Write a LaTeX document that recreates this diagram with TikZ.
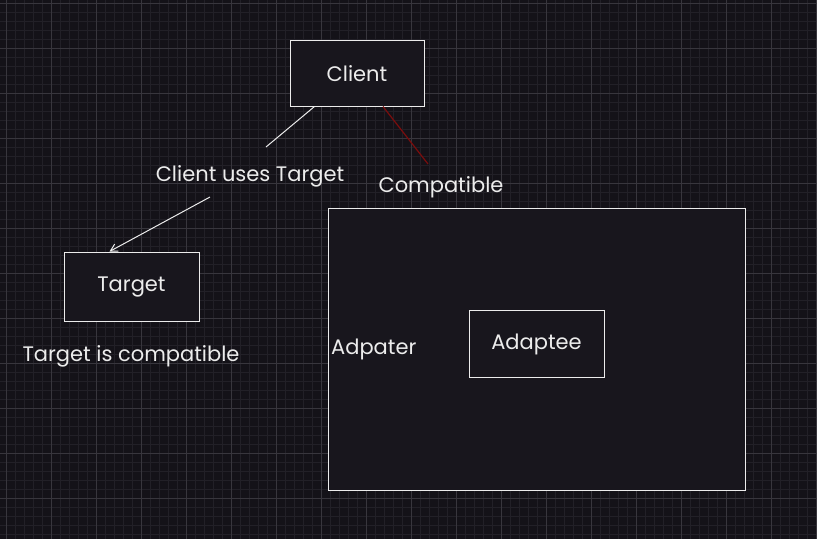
\documentclass[tikz,border=0pt]{standalone}
\usepackage{fontspec}
\setmainfont{Poppins}
\usetikzlibrary{arrows.meta,calc}
\definecolor{bg}{HTML}{141218}
\definecolor{boxfill}{HTML}{18161D}
\definecolor{minorgrid}{HTML}{222027}
\definecolor{majorgrid}{HTML}{38363D}
\definecolor{ink}{HTML}{ECECEC}
\definecolor{redline}{HTML}{7A0D0D}
\tikzset{
  x=1pt,y=-1pt,
  sketchbox/.style={draw=ink, line width=1pt, fill=boxfill, inner sep=0pt},
  lbl/.style={text=ink, font=\fontsize{21}{24}\selectfont, inner sep=0pt},
  wire/.style={draw=ink, line width=1pt},
}
\begin{document}
\begin{tikzpicture}
\fill[bg] (0,0) rectangle (817,539);
\useasboundingbox (0,0) rectangle (817,539);
% grid
\foreach \k in {0,...,90} {\draw[minorgrid, line width=0.8pt] ({6.5+9*\k},0) -- ({6.5+9*\k},539);}
\foreach \k in {0,...,59} {\draw[minorgrid, line width=0.8pt] (0,{3.3+9*\k}) -- (817,{3.3+9*\k});}
\foreach \k in {0,...,18} {\draw[majorgrid, line width=0.8pt] ({6.5+45*\k},0) -- ({6.5+45*\k},539);}
\foreach \k in {0,...,11} {\draw[majorgrid, line width=0.8pt] (0,{3.3+45*\k}) -- (817,{3.3+45*\k});}

% boxes
\node[sketchbox, minimum width=134pt, minimum height=66pt] (client) at (357,73) {};
\node[lbl] at ([yshift=-1pt]client.center) {Client};
\node[sketchbox, minimum width=135pt, minimum height=69pt] (target) at (131.5,286.5) {};
\node[lbl] at ([yshift=-1pt]target.center) {Target};
\node[sketchbox, minimum width=417pt, minimum height=282pt] (adapter) at (536.5,349) {};
\node[sketchbox, minimum width=135pt, minimum height=67pt] (adaptee) at (536.5,343.5) {};
\node[lbl] at ([yshift=-1pt]adaptee.center) {Adaptee};

% labels
\node[lbl] (uses) at (250,176) {Client uses Target};
\node[lbl] (compat) at (441,187) {Compatible};
\node[lbl] (tcompat) at (131,356) {Target is compatible};
\node[lbl, anchor=west] (adp) at (331,349) {Adpater};

% connectors
\coordinate (u1) at (266,147);
\coordinate (u2) at (210,197);
\coordinate (r2) at (428,164);
\draw[wire] ([xshift=25pt]client.south west) -- (u1);
\draw[wire, -{Straight Barb[length=7pt,width=8pt]}] (u2) -- ([xshift=-22pt]target.north);
\draw[draw=redline, line width=1.2pt] ([xshift=26pt]client.south) -- (r2);
\end{tikzpicture}
\end{document}
